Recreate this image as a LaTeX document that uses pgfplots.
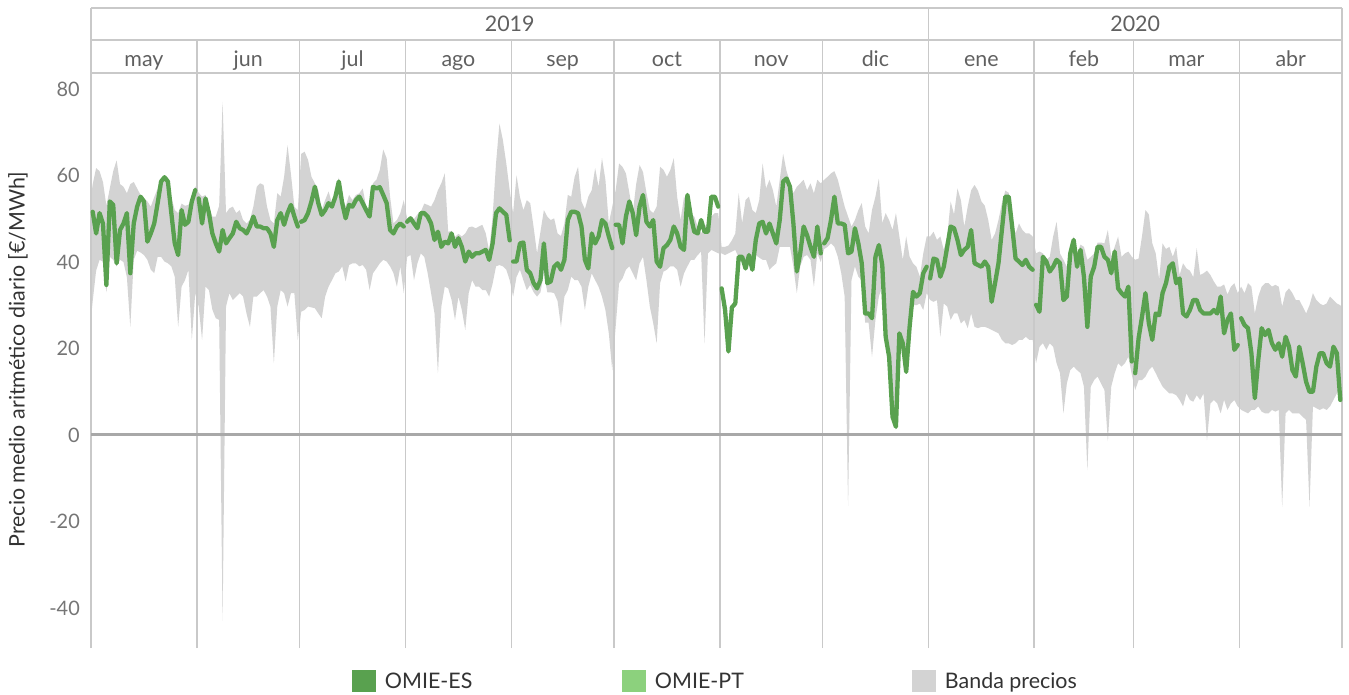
\documentclass[border=0pt]{standalone}
\usepackage{fontspec}
\setmainfont{Lato}
\usepackage{pgfplots}
\pgfplotsset{compat=1.18}
\usepgfplotslibrary{fillbetween}
\definecolor{omiees}{HTML}{59A14F}
\definecolor{omiept}{HTML}{8CD17D}
\definecolor{banda}{HTML}{D3D3D3}
\definecolor{gridc}{HTML}{C9C9C9}
\definecolor{zeroc}{HTML}{A8A8A8}
\definecolor{tickc}{HTML}{757575}
\definecolor{headc}{HTML}{606060}
\definecolor{labc}{HTML}{333333}
\newcommand{\tf}{\fontsize{20}{24}\selectfont}
\newcommand{\lf}{\fontsize{21.5}{25}\selectfont}
\begin{document}
\begin{tikzpicture}
\begin{axis}[
  at={(0,0)}, anchor=south west,
  scale only axis, width=1251bp, height=575bp,
  xmin=0, xmax=366, ymin=-49.2486, ymax=83.6994,
  clip=false,
  axis line style={draw=none},
  tick style={draw=none},
  major tick length=0pt,
  xtick=\empty,
  ytick={-40,-20,0,20,40,60,80},
  yticklabels={-40,-20,0,20,40,60,80},
  yticklabel style={text=tickc, inner xsep=0pt, xshift=-11bp, font=\tf},
  ylabel={Precio medio aritmético diario [€/MWh]},
  every axis y label/.style={at={(rel axis cs:-0.05835,0.5017)}, rotate=90, anchor=center, text=labc, font=\lf},
  legend style={at={(0.20863,-0.05739)}, anchor=west, draw=none, fill=none, inner sep=0pt, outer sep=0pt, column sep=0pt,
    nodes={inner sep=0pt, text height=19.5bp, text depth=4bp, text=labc, font=\lf}},
  legend columns=3,
  legend image code/.code={\fill (0bp,-11bp) rectangle (24bp,11bp);},
]
\addlegendimage{fill=omiees, draw=none}
\addlegendentry{\hspace*{9bp}\makebox[237bp][l]{OMIE-ES}}
\addlegendimage{fill=omiept, draw=none}
\addlegendentry{\hspace*{9bp}\makebox[257bp][l]{OMIE-PT}}
\addlegendimage{fill=banda, draw=none}
\addlegendentry{\hspace*{9bp}Banda precios}

% ---- price band (daily max / min) ----
\addplot[name path=hi, draw=none, forget plot] coordinates {
(0,55)(0.5,58)(1.5,61.7)(2.5,61)(3.5,58.5)(4.5,53)(5.5,57)(6.5,61)(7.5,63.5)(8.5,58)(9.5,57.4)(10.5,55.9)(11.5,58)(12.5,58.5)(13.5,57)(14.5,55.5)(15.5,54.7)(16.5,54)(17.5,52.8)(18.5,55)(19.5,57)(20.5,59)(21.5,59.7)(22.5,59.5)(23.5,55)(24.5,52)(25.5,51.3)(26.5,53.5)(27.5,53)(28.5,53.2)(29.5,55)(30.5,57.5)
(31.5,56)(32.5,55.1)(33.5,55.5)(34.5,52.8)(35.5,50.5)(36.5,50.5)(37.5,53)(38.5,77)(39.5,51.3)(40.5,52.4)(41.5,52.8)(42.5,51.3)(43.5,52)(44.5,49.7)(45.5,48.9)(46.5,49.7)(47.5,52.8)(48.5,57.4)(49.5,58.2)(50.5,57.8)(51.5,52.8)(52.5,49.7)(53.5,48.9)(54.5,55.9)(55.5,55.1)(56.5,59.7)(57.5,67)(58.5,60.3)(59.5,52.8)(60.5,52)
(61.5,65)(62.5,65.5)(63.5,63.6)(64.5,59.7)(65.5,58.2)(66.5,56.6)(67.5,52)(68.5,54.3)(69.5,56.3)(70.5,53.6)(71.5,55.1)(72.5,59.5)(73.5,55.1)(74.5,52.8)(75.5,55.5)(76.5,54.3)(77.5,55.5)(78.5,55.9)(79.5,57)(80.5,52.8)(81.5,51.5)(82.5,58.2)(83.5,59)(84.5,61.3)(85.5,66)(86.5,64)(87.5,55.1)(88.5,48.9)(89.5,49.7)(90.5,51.3)(91.5,54.3)
(92.5,50)(93.5,50.5)(94.5,49.9)(95.5,51)(96.5,51.6)(97.5,53.5)(98.5,53.2)(99.5,52.8)(100.5,54.3)(101.5,56.6)(102.5,58.2)(103.5,60.5)(104.5,47)(105.5,47.2)(106.5,45.8)(107.5,46.5)(108.5,45.9)(109.5,46.6)(110.5,48)(111.5,48.2)(112.5,47.8)(113.5,48.2)(114.5,48.6)(115.5,46.6)(116.5,42.5)(117.5,50.5)(118.5,62.8)(119.5,72)(120.5,68.2)(121.5,62.8)(122.5,56.6)
(123.5,51.3)(124.5,60)(125.5,55)(126.5,52)(127.5,54.3)(128.5,53.6)(129.5,48)(130.5,42)(131.5,47)(132.5,52)(133.5,50.5)(134.5,49.7)(135.5,50.1)(136.5,46.6)(137.5,46)(138.5,48.9)(139.5,55.5)(140.5,55.1)(141.5,59.7)(142.5,62)(143.5,54)(144.5,52.2)(145.5,55.1)(146.5,56.6)(147.5,61.7)(148.5,57.4)(149.5,64)(150.5,59)(151.5,48.9)(152.5,52.8)
(153.5,56.6)(154.5,62.8)(155.5,62)(156.5,60.5)(157.5,56)(158.5,51.3)(159.5,58)(160.5,62.4)(161.5,60.8)(162.5,56)(163.5,52)(164.5,51.3)(165.5,52.8)(166.5,62)(167.5,61.3)(168.5,59.7)(169.5,61.3)(170.5,64)(171.5,55)(172.5,49.7)(173.5,55.1)(174.5,53.6)(175.5,51.3)(176.5,50.5)(177.5,48.2)(178.5,46.6)(179.5,48.2)(180.5,48.9)(181.5,50.5)(182.5,51.3)(183.5,51.3)
(184.5,43.5)(185.5,43.5)(186.5,43.8)(187.5,45)(188.5,46.6)(189.5,55.9)(190.5,49)(191.5,54.3)(192.5,55.1)(193.5,52)(194.5,51.3)(195.5,54.3)(196.5,62.8)(197.5,57)(198.5,59)(199.5,56.6)(200.5,52.8)(201.5,59)(202.5,65)(203.5,61)(204.5,58.5)(205.5,55.9)(206.5,57.4)(207.5,58.2)(208.5,59)(209.5,56.6)(210.5,58.2)(211.5,55.9)(212.5,59)(213.5,58.2)
(214.5,59)(215.5,59.7)(216.5,60.5)(217.5,61)(218.5,59)(219.5,55.9)(220.5,52.8)(221.5,50.5)(222.5,48.2)(223.5,49.7)(224.5,52)(225.5,53.6)(226.5,48.2)(227.5,46.6)(228.5,52)(229.5,55.1)(230.5,59.3)(231.5,49)(232.5,51.3)(233.5,49.7)(234.5,47.4)(235.5,51.3)(236.5,45.9)(237.5,40.5)(238.5,45.9)(239.5,41.2)(240.5,39.7)(241.5,38.9)(242.5,36.6)(243.5,42)(244.5,45.9)
(245.5,45.9)(246.5,47)(247.5,45.1)(248.5,45.9)(249.5,42.8)(250.5,45.9)(251.5,54)(252.5,51)(253.5,57)(254.5,54.3)(255.5,48.2)(256.5,52.8)(257.5,56.6)(258.5,57.8)(259.5,56.5)(260.5,54)(261.5,53)(262.5,49.7)(263.5,45.1)(264.5,46.6)(265.5,49.7)(266.5,53.6)(267.5,56.5)(268.5,56)(269.5,49.7)(270.5,46.6)(271.5,48.9)(272.5,47.4)(273.5,46.6)(274.5,46.6)(275.5,45.9)
(276.5,42)(277.5,42.4)(278.5,42)(279.5,40.5)(280.5,41.2)(281.5,45.9)(282.5,49.3)(283.5,42)(284.5,40.5)(285.5,38.9)(286.5,43)(287.5,45.9)(288.5,42)(289.5,44)(290.5,43.5)(291.5,40.5)(292.5,41.2)(293.5,42)(294.5,44.5)(295.5,44.5)(296.5,44.3)(297.5,47.4)(298.5,41.2)(299.5,43.5)(300.5,45.9)(301.5,41.2)(302.5,42)(303.5,42.4)(304.5,41.2)
(305.5,40.5)(306.5,40.8)(307.5,46)(308.5,52)(309.5,51)(310.5,44.3)(311.5,42)(312.5,36)(313.5,44.3)(314.5,43)(315.5,43.5)(316.5,41.2)(317.5,43.5)(318.5,37)(319.5,39.7)(320.5,38.5)(321.5,38)(322.5,36.5)(323.5,43.2)(324.5,37)(325.5,37.4)(326.5,38)(327.5,37)(328.5,35.5)(329.5,34.3)(330.5,34.3)(331.5,34.8)(332.5,32.5)(333.5,34.3)(334.5,35.1)(335.5,32.8)
(336.5,34.3)(337.5,32.8)(338.5,35.1)(339.5,34.3)(340.5,28.1)(341.5,32)(342.5,34.3)(343.5,35.1)(344.5,35.1)(345.5,34.3)(346.5,34.7)(347.5,34.3)(348.5,29.7)(349.5,33)(350.5,33.9)(351.5,32.8)(352.5,31.2)(353.5,31.2)(354.5,29.7)(355.5,28.1)(356.5,30)(357.5,32.8)(358.5,31.2)(359.5,30.4)(360.5,30)(361.5,30.4)(362.5,32)(363.5,31.2)(364.5,30.4)(365.5,30)(366,29.5)
};
\addplot[name path=lo, draw=none, forget plot] coordinates {
(0,27)(0.5,31)(1.5,38)(2.5,40.5)(3.5,40.1)(4.5,33)(5.5,41.2)(6.5,40.5)(7.5,39)(8.5,40.5)(9.5,40)(10.5,36.5)(11.5,25)(12.5,40.5)(13.5,42.6)(14.5,42.2)(15.5,41.6)(16.5,40.5)(17.5,38.2)(18.5,37.4)(19.5,41.2)(20.5,41.2)(21.5,40.1)(22.5,39.7)(23.5,39)(24.5,36.6)(25.5,25)(26.5,34.3)(27.5,35.8)(28.5,38.2)(29.5,22)(30.5,32.8)
(31.5,29.7)(32.5,22)(33.5,34.3)(34.5,33.5)(35.5,29)(36.5,27)(37.5,26.6)(38.5,-43)(39.5,29.7)(40.5,32.8)(41.5,31.2)(42.5,32)(43.5,32.8)(44.5,32)(45.5,28.1)(46.5,25)(47.5,32)(48.5,32)(49.5,32.8)(50.5,33.5)(51.5,32)(52.5,29.7)(53.5,16.6)(54.5,29.7)(55.5,33.5)(56.5,32.8)(57.5,29.7)(58.5,32.8)(59.5,32.8)(60.5,22)
(61.5,28.5)(62.5,28.9)(63.5,29.7)(64.5,29.5)(65.5,29.3)(66.5,28.1)(67.5,27)(68.5,32)(69.5,34.3)(70.5,35.8)(71.5,37.4)(72.5,37.8)(73.5,39)(74.5,35.5)(75.5,39.3)(76.5,39.7)(77.5,39.7)(78.5,39)(79.5,39.3)(80.5,38.2)(81.5,33.5)(82.5,37.4)(83.5,38.5)(84.5,39.7)(85.5,40.5)(86.5,40.1)(87.5,39)(88.5,37.4)(89.5,34.3)(90.5,39)(91.5,32.8)
(92.5,41.2)(93.5,41.6)(94.5,35.8)(95.5,39.7)(96.5,42)(97.5,41.2)(98.5,37.4)(99.5,32.8)(100.5,28.1)(101.5,14.3)(102.5,29.7)(103.5,34.3)(104.5,33.9)(105.5,31.2)(106.5,26.6)(107.5,32)(108.5,28.9)(109.5,24.3)(110.5,32.8)(111.5,35.8)(112.5,34.3)(113.5,34.3)(114.5,33.5)(115.5,33.5)(116.5,32)(117.5,35)(118.5,39)(119.5,39.3)(120.5,39)(121.5,38.2)(122.5,35.8)
(123.5,32)(124.5,36.6)(125.5,38.2)(126.5,35.8)(127.5,33.5)(128.5,34.7)(129.5,33)(130.5,32)(131.5,33)(132.5,37.4)(133.5,33)(134.5,33)(135.5,32.8)(136.5,31)(137.5,25)(138.5,32)(139.5,33.5)(140.5,36.6)(141.5,35.8)(142.5,35.8)(143.5,34.3)(144.5,28.9)(145.5,34.3)(146.5,37.4)(147.5,35.8)(148.5,34.3)(149.5,32)(150.5,28.9)(151.5,23.5)(152.5,15)
(153.5,25)(154.5,35.1)(155.5,36.2)(156.5,38.2)(157.5,39)(158.5,37.4)(159.5,35.8)(160.5,39.7)(161.5,41.2)(162.5,35.8)(163.5,29.7)(164.5,25.8)(165.5,21.2)(166.5,35.1)(167.5,37.8)(168.5,38.2)(169.5,39)(170.5,39)(171.5,38.2)(172.5,34.3)(173.5,37.4)(174.5,39)(175.5,40.5)(176.5,40.5)(177.5,41.6)(178.5,42.4)(179.5,21.2)(180.5,42)(181.5,42.8)(182.5,42.4)(183.5,42)
(184.5,42)(185.5,41.6)(186.5,42)(187.5,42.4)(188.5,42.8)(189.5,41)(190.5,41)(191.5,38.5)(192.5,41)(193.5,38)(194.5,41.6)(195.5,41)(196.5,40.5)(197.5,40.5)(198.5,38.2)(199.5,39)(200.5,39.7)(201.5,43.5)(202.5,43.5)(203.5,43.5)(204.5,43.5)(205.5,38.9)(206.5,32.8)(207.5,39)(208.5,41.2)(209.5,41.6)(210.5,40.5)(211.5,34.3)(212.5,42)(213.5,40)
(214.5,43)(215.5,43.5)(216.5,44.3)(217.5,43.5)(218.5,41.2)(219.5,37.4)(220.5,32)(221.5,-16.4)(222.5,35.8)(223.5,39)(224.5,36.6)(225.5,35.8)(226.5,26)(227.5,26)(228.5,18.1)(229.5,26.6)(230.5,32)(231.5,34.3)(232.5,21)(233.5,17)(234.5,3.5)(235.5,1.2)(236.5,22.7)(237.5,20.4)(238.5,14.3)(239.5,23.5)(240.5,30)(241.5,30)(242.5,30.4)(243.5,28.9)(244.5,32.8)
(245.5,31.2)(246.5,30.8)(247.5,31.2)(248.5,22.7)(249.5,30.4)(250.5,29.7)(251.5,26.6)(252.5,28.1)(253.5,28.1)(254.5,25.8)(255.5,26.6)(256.5,24.7)(257.5,28.1)(258.5,25)(259.5,24.7)(260.5,25)(261.5,25)(262.5,24.7)(263.5,24.3)(264.5,23.9)(265.5,23.5)(266.5,22)(267.5,21.2)(268.5,21.2)(269.5,20.8)(270.5,21.2)(271.5,22)(272.5,22)(273.5,22.7)(274.5,22)(275.5,22)
(276.5,16.6)(277.5,20.4)(278.5,21.2)(279.5,19.7)(280.5,21.2)(281.5,20.4)(282.5,16.6)(283.5,14.3)(284.5,5)(285.5,11.9)(286.5,15)(287.5,15.8)(288.5,15)(289.5,14.3)(290.5,11.2)(291.5,-8.1)(292.5,11.2)(293.5,12.7)(294.5,13.5)(295.5,11.9)(296.5,10.4)(297.5,-1.4)(298.5,11.2)(299.5,14.3)(300.5,16.6)(301.5,15.8)(302.5,16.6)(303.5,18.1)(304.5,14)
(305.5,10.4)(306.5,12.7)(307.5,12.7)(308.5,13.5)(309.5,15)(310.5,15.8)(311.5,14.3)(312.5,12.7)(313.5,11.2)(314.5,10.4)(315.5,9.6)(316.5,9.6)(317.5,9.2)(318.5,8.1)(319.5,6.6)(320.5,9.6)(321.5,8.1)(322.5,7.7)(323.5,9.2)(324.5,8.1)(325.5,9.6)(326.5,-1.2)(327.5,7.3)(328.5,8.1)(329.5,7.3)(330.5,5)(331.5,8.1)(332.5,5.8)(333.5,7.3)(334.5,8.1)(335.5,6.6)
(336.5,5.8)(337.5,5.4)(338.5,5)(339.5,5.8)(340.5,5.8)(341.5,6.6)(342.5,5.4)(343.5,5)(344.5,5)(345.5,5.8)(346.5,5.4)(347.5,5.8)(348.5,-16.6)(349.5,5)(350.5,5.8)(351.5,5)(352.5,5)(353.5,5)(354.5,4.2)(355.5,3.5)(356.5,-16.6)(357.5,6.6)(358.5,6.2)(359.5,5.8)(360.5,6.2)(361.5,5.8)(362.5,6.6)(363.5,8.1)(364.5,9.6)(365.5,10.4)(366,10.5)
};
\addplot[fill=banda, draw=none, forget plot] fill between[of=hi and lo];

% ---- month / year grid and header ----
\pgfplotsinvokeforeach{31,61,92,123,153,184,214,276,305,336}{
  \draw[gridc, line width=1.8bp] ({axis cs:#1,0}|-{rel axis cs:0,0}) -- ({axis cs:#1,0}|-{rel axis cs:0,1.05739});
}
\pgfplotsinvokeforeach{0,245,366}{
  \draw[gridc, line width=1.8bp] ({axis cs:#1,0}|-{rel axis cs:0,0}) -- ({axis cs:#1,0}|-{rel axis cs:0,1.11304});
}
\draw[gridc, line width=1.8bp] (rel axis cs:0,1) -- (rel axis cs:1,1);
\draw[gridc, line width=1.8bp] (rel axis cs:0,1.05739) -- (rel axis cs:1,1.05739);
\draw[gridc, line width=1.8bp] (rel axis cs:0,1.11304) -- (rel axis cs:1,1.11304);
\draw[zeroc, line width=3bp] (axis cs:0,0) -- (axis cs:366,0);

\node[anchor=base, text=headc, font=\lf] at ({axis cs:122.5,0}|-{rel axis cs:0,1.0713}) {2019};
\node[anchor=base, text=headc, font=\lf] at ({axis cs:305.5,0}|-{rel axis cs:0,1.0713}) {2020};
\node[anchor=base, text=headc, font=\lf] at ({axis cs:15.5,0}|-{rel axis cs:0,1.0113}) {may};
\node[anchor=base, text=headc, font=\lf] at ({axis cs:46,0}|-{rel axis cs:0,1.0113}) {jun};
\node[anchor=base, text=headc, font=\lf] at ({axis cs:76.5,0}|-{rel axis cs:0,1.0113}) {jul};
\node[anchor=base, text=headc, font=\lf] at ({axis cs:107.5,0}|-{rel axis cs:0,1.0113}) {ago};
\node[anchor=base, text=headc, font=\lf] at ({axis cs:138,0}|-{rel axis cs:0,1.0113}) {sep};
\node[anchor=base, text=headc, font=\lf] at ({axis cs:168.5,0}|-{rel axis cs:0,1.0113}) {oct};
\node[anchor=base, text=headc, font=\lf] at ({axis cs:199,0}|-{rel axis cs:0,1.0113}) {nov};
\node[anchor=base, text=headc, font=\lf] at ({axis cs:229.5,0}|-{rel axis cs:0,1.0113}) {dic};
\node[anchor=base, text=headc, font=\lf] at ({axis cs:260.5,0}|-{rel axis cs:0,1.0113}) {ene};
\node[anchor=base, text=headc, font=\lf] at ({axis cs:290.5,0}|-{rel axis cs:0,1.0113}) {feb};
\node[anchor=base, text=headc, font=\lf] at ({axis cs:320.5,0}|-{rel axis cs:0,1.0113}) {mar};
\node[anchor=base, text=headc, font=\lf] at ({axis cs:351,0}|-{rel axis cs:0,1.0113}) {abr};

% ---- OMIE-ES daily average, one line per month ----
\pgfplotsset{es/.style={omiees, line width=4.3bp, line join=round, line cap=round, forget plot}}
\addplot[es] coordinates {(0.5,51.6)(1.5,46.6)(2.5,51.3)(3.5,48.9)(4.5,34.7)(5.5,54)(6.5,53.2)(7.5,39.7)(8.5,47.4)(9.5,48.9)(10.5,51.3)(11.5,37.4)(12.5,48.9)(13.5,52.8)(14.5,55.1)(15.5,54)(16.5,44.7)(17.5,46.6)(18.5,48.9)(19.5,53.6)(20.5,58.6)(21.5,59.6)(22.5,58.6)(23.5,51.3)(24.5,44.3)(25.5,41.6)(26.5,52)(27.5,48.6)(28.5,49.3)(29.5,54)(30.5,56.6)};
\addplot[es] coordinates {(31.5,54.7)(32.5,48.9)(33.5,54.7)(34.5,51.3)(35.5,46.6)(36.5,44.3)(37.5,42.4)(38.5,47.4)(39.5,44.3)(40.5,45.5)(41.5,46.6)(42.5,49.3)(43.5,47.8)(44.5,47.4)(45.5,46.6)(46.5,48.2)(47.5,50.5)(48.5,48.2)(49.5,48.2)(50.5,47.8)(51.5,47.8)(52.5,46.6)(53.5,43.5)(54.5,49.7)(55.5,51.3)(56.5,48.6)(57.5,51.3)(58.5,53.2)(59.5,50.5)(60.5,48.2)};
\addplot[es] coordinates {(61.5,49.3)(62.5,49.7)(63.5,51.3)(64.5,54)(65.5,57.4)(66.5,53.6)(67.5,50.9)(68.5,52)(69.5,53.6)(70.5,52.8)(71.5,55.1)(72.5,58.6)(73.5,53.6)(74.5,50.1)(75.5,53.2)(76.5,52.8)(77.5,54.3)(78.5,55.1)(79.5,53.6)(80.5,52)(81.5,50.5)(82.5,57.4)(83.5,57)(84.5,57.3)(85.5,55.5)(86.5,53.6)(87.5,47.4)(88.5,46.6)(89.5,48.2)(90.5,48.9)(91.5,48.2)};
\addplot[es] coordinates {(92.5,49.3)(93.5,50.1)(94.5,48.9)(95.5,47.8)(96.5,51.3)(97.5,51.3)(98.5,50.5)(99.5,48.9)(100.5,45.1)(101.5,47)(102.5,43.5)(103.5,44.7)(104.5,44.3)(105.5,46.6)(106.5,43.5)(107.5,45.5)(108.5,43.5)(109.5,40.1)(110.5,42.4)(111.5,41.2)(112.5,42)(113.5,42)(114.5,42.4)(115.5,42.8)(116.5,40.5)(117.5,44.3)(118.5,51.3)(119.5,52.4)(120.5,51.6)(121.5,50.9)(122.5,45)};
\addplot[es] coordinates {(123.5,40.1)(124.5,40.1)(125.5,44.3)(126.5,44.5)(127.5,38.2)(128.5,37.4)(129.5,35.1)(130.5,33.9)(131.5,35.8)(132.5,44.3)(133.5,35.1)(134.5,35.5)(135.5,38.9)(136.5,39.7)(137.5,38.2)(138.5,40.5)(139.5,49.7)(140.5,51.6)(141.5,51.6)(142.5,51.3)(143.5,48.2)(144.5,40.5)(145.5,38.5)(146.5,46.6)(147.5,44.3)(148.5,45.9)(149.5,49.7)(150.5,48.9)(151.5,45.9)(152.5,43.2)};
\addplot[es] coordinates {(153.5,48.6)(154.5,48.6)(155.5,44.3)(156.5,50.5)(157.5,54)(158.5,51.3)(159.5,46.2)(160.5,52.8)(161.5,55.5)(162.5,49.3)(163.5,48.2)(164.5,49.7)(165.5,40.1)(166.5,38.9)(167.5,43.2)(168.5,43.9)(169.5,45.1)(170.5,48.2)(171.5,46.6)(172.5,43.5)(173.5,42.8)(174.5,55.5)(175.5,50.5)(176.5,47)(177.5,46.6)(178.5,49.7)(179.5,47)(180.5,47)(181.5,55.1)(182.5,55.1)(183.5,52.8)};
\addplot[es] coordinates {(184.5,33.9)(185.5,29)(186.5,19.3)(187.5,29.5)(188.5,30.4)(189.5,41.2)(190.5,41.2)(191.5,38.5)(192.5,41.6)(193.5,38.2)(194.5,45.1)(195.5,48.9)(196.5,49.3)(197.5,46.6)(198.5,48.9)(199.5,46.6)(200.5,44.3)(201.5,49.7)(202.5,58.6)(203.5,59.3)(204.5,57.4)(205.5,48.9)(206.5,37.8)(207.5,42)(208.5,48.2)(209.5,46.2)(210.5,43.5)(211.5,41.2)(212.5,48.2)(213.5,42)};
\addplot[es] coordinates {(214.5,44.3)(215.5,45.5)(216.5,49.7)(217.5,55.1)(218.5,48.9)(219.5,48.9)(220.5,48.6)(221.5,42)(222.5,42.4)(223.5,47.8)(224.5,44.3)(225.5,39.7)(226.5,28.1)(227.5,28.1)(228.5,27)(229.5,41.2)(230.5,43.9)(231.5,39.3)(232.5,22.7)(233.5,18.1)(234.5,4.2)(235.5,1.9)(236.5,23.5)(237.5,21.2)(238.5,14.6)(239.5,25)(240.5,33.1)(241.5,32)(242.5,32.8)(243.5,37.4)(244.5,38.9)};
\addplot[es] coordinates {(245.5,36.2)(246.5,40.8)(247.5,40.5)(248.5,36.6)(249.5,38.9)(250.5,43.5)(251.5,48.2)(252.5,47.8)(253.5,45.1)(254.5,41.6)(255.5,42.8)(256.5,43.5)(257.5,47.4)(258.5,39.7)(259.5,39.3)(260.5,38.9)(261.5,40.1)(262.5,38.9)(263.5,30.8)(264.5,35.1)(265.5,39.7)(266.5,47.4)(267.5,55.1)(268.5,55.1)(269.5,48.2)(270.5,40.8)(271.5,40.1)(272.5,39.3)(273.5,40.5)(274.5,38.9)(275.5,38.2)};
\addplot[es] coordinates {(276.5,30.1)(277.5,28.5)(278.5,41.2)(279.5,40.1)(280.5,37.8)(281.5,38.9)(282.5,40.5)(283.5,39.7)(284.5,31.2)(285.5,32)(286.5,42)(287.5,45.1)(288.5,38.9)(289.5,42.8)(290.5,36.6)(291.5,25)(292.5,36.6)(293.5,38.9)(294.5,43.5)(295.5,43.5)(296.5,41.2)(297.5,40.5)(298.5,37.4)(299.5,42.4)(300.5,33.9)(301.5,32.8)(302.5,32)(303.5,34.3)(304.5,17)};
\addplot[es] coordinates {(305.5,14.3)(306.5,22.4)(307.5,27.4)(308.5,32.8)(309.5,25.8)(310.5,22)(311.5,28.1)(312.5,27.7)(313.5,32.8)(314.5,35.1)(315.5,38.9)(316.5,39.7)(317.5,35.1)(318.5,36.2)(319.5,28.1)(320.5,27.4)(321.5,28.9)(322.5,31.2)(323.5,31.2)(324.5,28.9)(325.5,28.1)(326.5,28.1)(327.5,28.1)(328.5,28.9)(329.5,28.1)(330.5,32)(331.5,23.5)(332.5,26.6)(333.5,28.1)(334.5,19.7)(335.5,20.8)};
\addplot[es] coordinates {(336.5,27)(337.5,25.4)(338.5,24.7)(339.5,18.9)(340.5,8.5)(341.5,17.3)(342.5,24.7)(343.5,23.1)(344.5,24.3)(345.5,21.2)(346.5,19.7)(347.5,21.2)(348.5,18.1)(349.5,22.7)(350.5,20.4)(351.5,15)(352.5,13.5)(353.5,20.4)(354.5,16.6)(355.5,12.3)(356.5,10)(357.5,10)(358.5,15.8)(359.5,18.9)(360.5,18.9)(361.5,16.6)(362.5,15.8)(363.5,20.4)(364.5,18.9)(365.5,8.1)};
\end{axis}
\pgfresetboundingbox
\path[use as bounding box] (-91bp,-47bp) rectangle (1258bp,648bp);
\end{tikzpicture}
\end{document}
